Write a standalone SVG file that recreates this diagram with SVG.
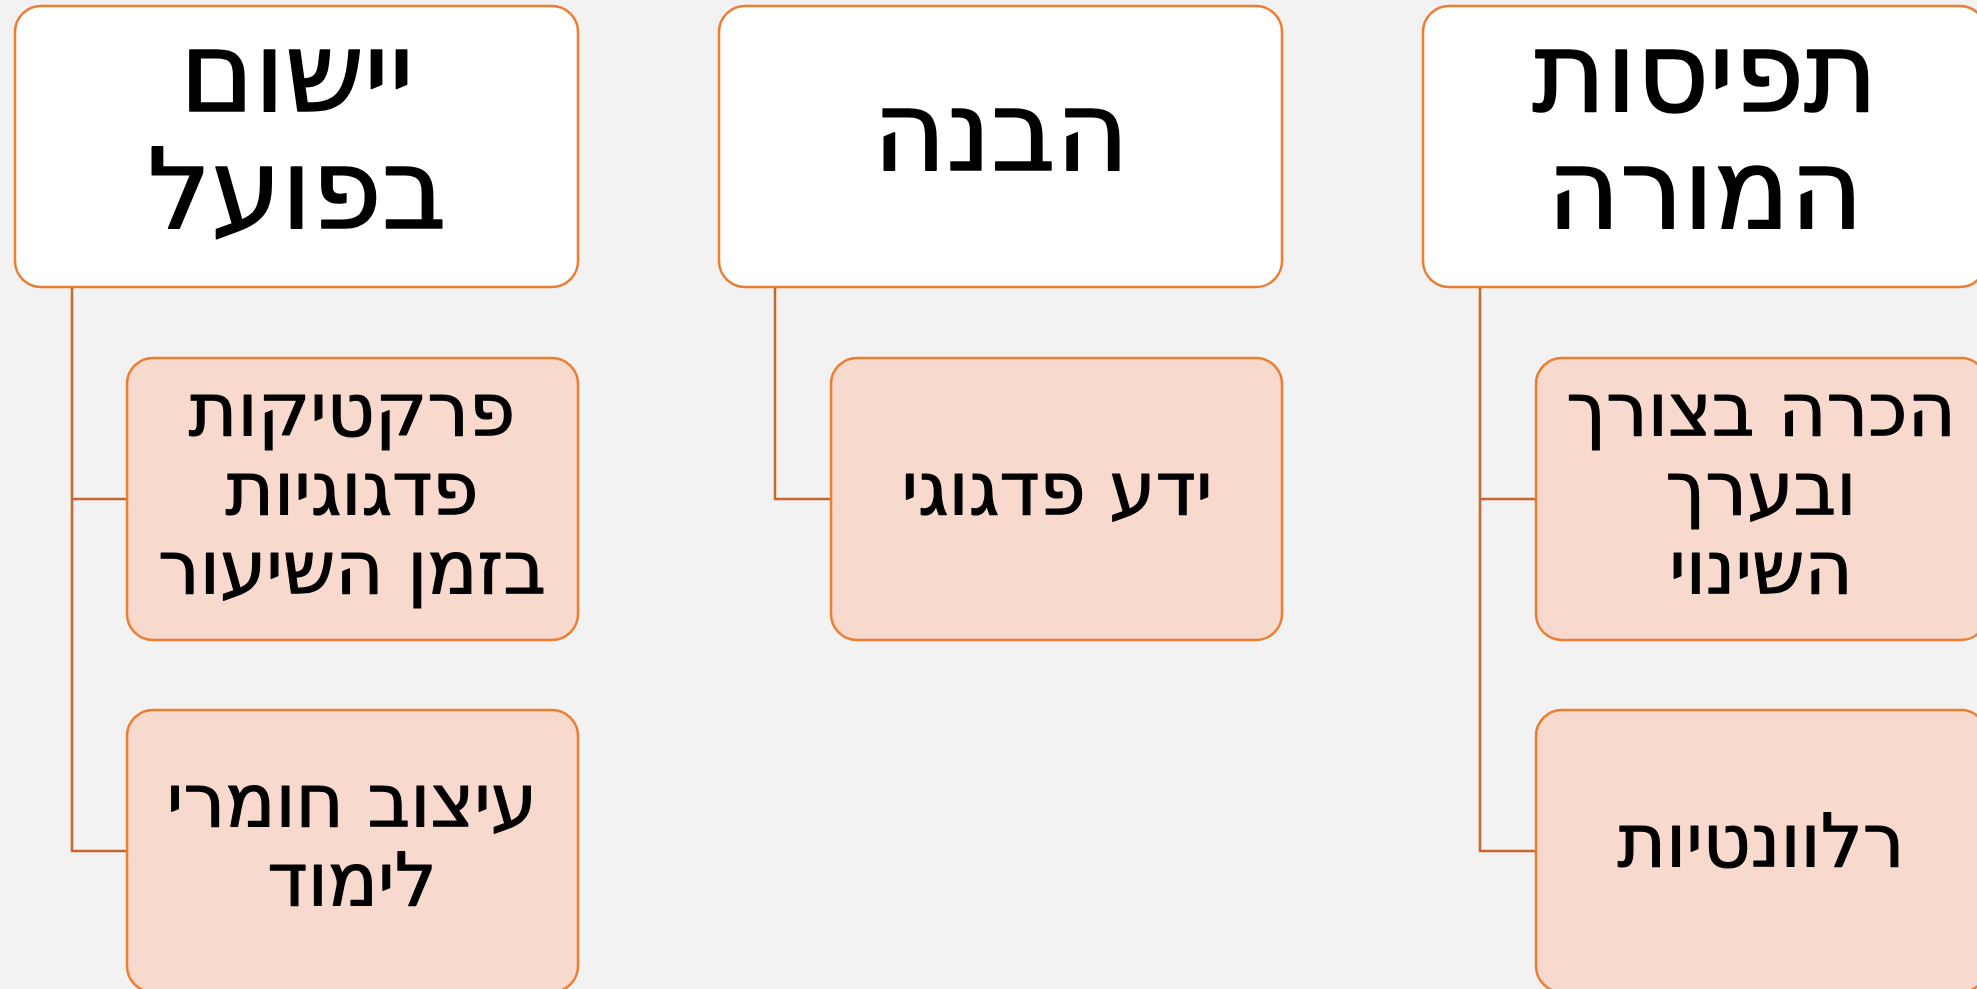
<svg xmlns="http://www.w3.org/2000/svg" width="1977" height="989" viewBox="0 0 1977 989">
<style>
.top{fill:#FFFFFF;stroke:#ED7D31;stroke-width:2.5}
.sub{fill:#F8D9CE;stroke:#ED7D31;stroke-width:2.5}
.con{fill:none;stroke:#C8662C;stroke-width:2.5}
text{font-family:"DejaVu Sans","Liberation Sans",sans-serif;fill:#000;stroke:#000;stroke-linejoin:round;text-anchor:middle;direction:rtl}
.t1{font-size:112px;stroke-width:1.6}
.t2{font-size:74px;stroke-width:1.2}
</style>
<rect x="0" y="0" width="1977" height="989" fill="#F2F2F2"/>
<g id="connectors">
<path class="con" d="M72 287 V851 H127 M72 499 H127"/>
<path class="con" d="M775 287 V499 H831"/>
<path class="con" d="M1480 287 V851 H1536 M1480 499 H1536"/>
</g>
<g id="node-a">
<rect class="top" x="15" y="6" width="563" height="281" rx="26"/>
<text class="t1" x="297" y="111">יישום</text>
<text class="t1" x="297" y="228">בפועל</text>
</g>
<g id="node-b">
<rect class="top" x="719" y="6" width="563" height="281" rx="26"/>
<text class="t1" x="1001" y="170">הבנה</text>
</g>
<g id="node-c">
<rect class="top" x="1423" y="6" width="563" height="281" rx="26"/>
<text class="t1" x="1705" y="111">תפיסות</text>
<text class="t1" x="1705" y="228">המורה</text>
</g>
<g id="node-a1">
<rect class="sub" x="127" y="358" width="451" height="282" rx="26"/>
<text class="t2" x="352" y="435">פרקטיקות</text>
<text class="t2" x="352" y="514">פדגוגיות</text>
<text class="t2" x="352" y="593">בזמן השיעור</text>
</g>
<g id="node-a2">
<rect class="sub" x="127" y="710" width="451" height="282" rx="26"/>
<text class="t2" x="352" y="826">עיצוב חומרי</text>
<text class="t2" x="352" y="905">לימוד</text>
</g>
<g id="node-b1">
<rect class="sub" x="831" y="358" width="451" height="282" rx="26"/>
<text class="t2" x="1057" y="514">ידע פדגוגי</text>
</g>
<g id="node-c1">
<rect class="sub" x="1536" y="358" width="451" height="282" rx="26"/>
<text class="t2" x="1761" y="435">הכרה בצורך</text>
<text class="t2" x="1761" y="514">ובערך</text>
<text class="t2" x="1761" y="593">השינוי</text>
</g>
<g id="node-c2">
<rect class="sub" x="1536" y="710" width="451" height="282" rx="26"/>
<text class="t2" x="1761" y="866">רלוונטיות</text>
</g>
</svg>
